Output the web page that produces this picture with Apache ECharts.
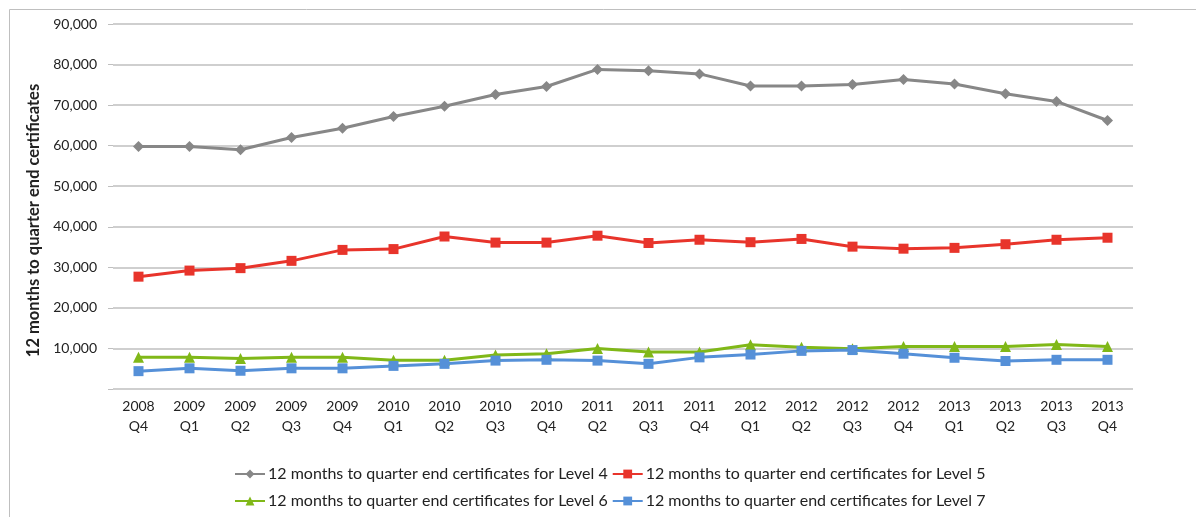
<!DOCTYPE html>
<html>
<head>
<meta charset="utf-8">
<script src="https://cdn.jsdelivr.net/npm/echarts@6/dist/echarts.min.js"></script>
<style>
  html, body { margin: 0; padding: 0; background: #fff; }
  #chart { width: 1196px; height: 517px; }
</style>
</head>
<body>
<div id="chart"></div>
<script>
const categories = [
  '2008\nQ4', '2009\nQ1', '2009\nQ2', '2009\nQ3', '2009\nQ4',
  '2010\nQ1', '2010\nQ2', '2010\nQ3', '2010\nQ4', '2011\nQ2',
  '2011\nQ3', '2011\nQ4', '2012\nQ1', '2012\nQ2', '2012\nQ3',
  '2012\nQ4', '2013\nQ1', '2013\nQ2', '2013\nQ3', '2013\nQ4'
];
const level4 = [59800, 59800, 59000, 62000, 64300, 67200, 69700, 72600, 74600, 78800,
  78500, 77700, 74700, 74700, 75100, 76300, 75200, 72800, 70900, 66200];
const level5 = [27700, 29200, 29800, 31600, 34300, 34500, 37600, 36100, 36100, 37800,
  36000, 36800, 36200, 37000, 35100, 34600, 34800, 35700, 36800, 37300];
const level6 = [7800, 7800, 7500, 7800, 7800, 7100, 7100, 8400, 8700, 10000,
  9100, 9100, 10900, 10300, 9900, 10500, 10500, 10500, 11000, 10500];
const level7 = [4400, 5100, 4500, 5100, 5100, 5700, 6200, 7000, 7200, 7000,
  6200, 7800, 8500, 9400, 9600, 8700, 7700, 6900, 7200, 7200];

const seriesNames = [
  '12 months to quarter end certificates for Level 4',
  '12 months to quarter end certificates for Level 5',
  '12 months to quarter end certificates for Level 6',
  '12 months to quarter end certificates for Level 7'
];
const yTitle = '12 months to quarter end certificates';

const font = 'Lato, "Open Sans", sans-serif';

function line(name, data, color, symbol, size) {
  return {
    name, type: 'line', data,
    symbol, symbolSize: size,
    lineStyle: { color, width: 3 },
    itemStyle: { color },
    emphasis: { disabled: true }
  };
}

// one legend per row, as in the original
function legendRow(top, names) {
  return {
    left: 229, top, itemGap: 4, itemWidth: 30, itemHeight: 11,
    textStyle: { fontFamily: font, fontSize: 16, color: '#222', padding: [0, 0, 0, -2] },
    data: names
  };
}

const chart = echarts.init(document.getElementById('chart'));
chart.setOption({
  animation: false,
  textStyle: { fontFamily: font },
  graphic: [{
    type: 'rect', left: 7, top: 7,
    shape: { width: 1210, height: 530 },
    style: { fill: 'none', stroke: '#BFBFBF', lineWidth: 1 }
  }],
  grid: { left: 113, right: 63, top: 24, bottom: 128 },
  legend: [
    legendRow(461, seriesNames.slice(0, 2)),
    legendRow(488, seriesNames.slice(2, 4))
  ],
  xAxis: {
    type: 'category', data: categories, boundaryGap: true,
    axisLine: { show: false }, axisTick: { show: false },
    axisLabel: { color: '#222', fontSize: 14, lineHeight: 20, margin: 7, interval: 0 }
  },
  yAxis: {
    type: 'value', min: 0, max: 90000, interval: 10000,
    name: yTitle, nameLocation: 'middle', nameGap: 66, nameRotate: 90,
    nameTextStyle: { fontWeight: 'bold', fontSize: 16.5, color: '#222', padding: [0, 28, 0, 0] },
    axisLine: { show: false },
    axisTick: { show: true, length: 5, lineStyle: { color: '#BFBFBF' } },
    splitLine: { lineStyle: { color: '#BFBFBF', width: 1.5 } },
    axisLabel: {
      color: '#222', fontSize: 14, margin: 16,
      formatter: v => v === 0 ? '' : v.toLocaleString('en-US')
    }
  },
  series: [
    line(seriesNames[0], level4, '#878787', 'diamond', 11),
    line(seriesNames[1], level5, '#E8342B', 'rect', 10),
    line(seriesNames[2], level6, '#80B818', 'triangle', 11),
    line(seriesNames[3], level7, '#5590D8', 'rect', 10)
  ]
});
</script>
</body>
</html>
